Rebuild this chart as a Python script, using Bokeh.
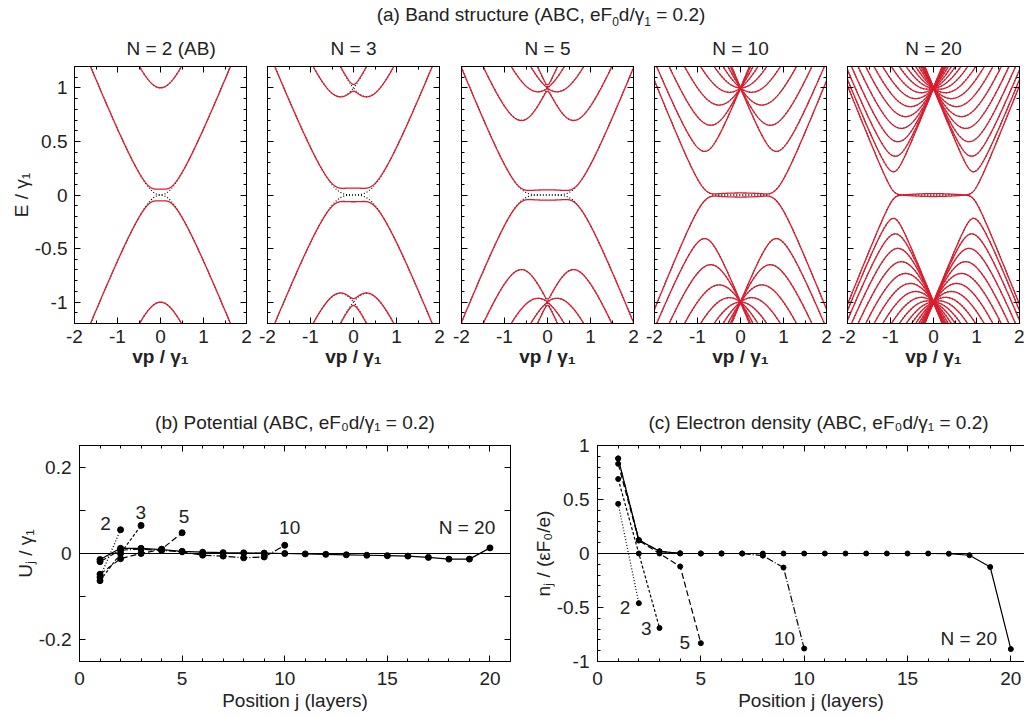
import numpy as np
from bokeh.plotting import figure
from bokeh.models import (Range1d, LinearAxis, FixedTicker, CustomJSTickFormatter,
                          CustomLabelingPolicy, Span, Label, Div)
from bokeh.layouts import column, row
from bokeh.embed import file_html
from bokeh.resources import INLINE

FONT = "Liberation Sans"
FS = "19px"
RED = "#dc1c2e"

# ---------------- data ----------------
layers_N2 = [1, 2]
layers_N3 = [1, 2, 3]
layers_N5 = [1, 2, 3, 4, 5]
layers_N10 = [1, 2, 3, 4, 5, 6, 7, 8, 9, 10]
layers_N20 = [1, 2, 3, 4, 5, 6, 7, 8, 9, 10, 11, 12, 13, 14, 15, 16, 17, 18, 19, 20]

# (b) potential U_j / gamma_1
U_N2 = [-0.055, 0.055]
U_N3 = [-0.063, 0.0, 0.065]
U_N5 = [-0.048, -0.012, 0.0, 0.010, 0.048]
U_N10 = [-0.019, 0.008, 0.010, 0.007, 0.004, -0.004, -0.006, -0.010, -0.008, 0.019]
U_N20 = [-0.014, 0.012, 0.012, 0.009, 0.005, 0.003, 0.002, 0.0015, 0.001, 0.0,
         -0.001, -0.002, -0.003, -0.004, -0.005, -0.006, -0.009, -0.013, -0.013, 0.013]

# (c) electron density n_j / (eps F0 / e)
n_N2 = [0.46, -0.46]
n_N3 = [0.69, 0.0, -0.69]
n_N5 = [0.83, 0.12, 0.0, -0.12, -0.83]
n_N10 = [0.88, 0.125, 0.02, 0.0, 0.0, 0.0, 0.0, -0.02, -0.13, -0.88]
n_N20 = [0.88, 0.125, 0.02, 0.002, 0.0, 0.0, 0.0, 0.0, 0.0, 0.0,
         0.0, 0.0, 0.0, 0.0, 0.0, 0.0, -0.002, -0.016, -0.125, -0.885]

# (a) band structure panels
band_titles = ["N = 2 (AB)", "N = 3", "N = 5", "N = 10", "N = 20"]
band_potentials = [U_N2, U_N3, U_N5, U_N10, U_N20]
gamma1 = 1.0                      # interlayer coupling (energy unit)
vp_min, vp_max = -2.0, 2.0        # momentum window of the band panels

x_ticks_a = [-2, -1, 0, 1, 2]
y_ticks_a = [-1, -0.5, 0, 0.5, 1]
x_labels_a = {-2: "-2", -1: "-1", 0: "0", 1: "1", 2: "2"}
y_labels_a = {-1: "-1", -0.5: "-0.5", 0: "0", 0.5: "0.5", 1: "1"}
x_ticks_bc = [0, 5, 10, 15, 20]
x_labels_bc = {0: "0", 5: "5", 10: "10", 15: "15", 20: "20"}
y_ticks_b = [-0.2, -0.1, 0, 0.1, 0.2]
y_labels_b = {-0.2: "-0.2", -0.1: "", 0: "0", 0.1: "", 0.2: "0.2"}
y_ticks_c = [-1, -0.5, 0, 0.5, 1]
y_labels_c = {-1: "-1", -0.5: "-0.5", 0: "0", 0.5: "0.5", 1: "1"}


def bands(U, vp):
    """Eigenvalues of the minimal ABC N-layer Hamiltonian with layer potentials U."""
    N = len(U)
    out = np.empty((len(vp), 2 * N))
    for i, k in enumerate(vp):
        H = np.zeros((2 * N, 2 * N))
        for j in range(N):
            a, b = 2 * j, 2 * j + 1
            H[a, a] = H[b, b] = U[j]
            H[a, b] = H[b, a] = k
        for j in range(N - 1):
            H[2 * j + 1, 2 * j + 2] = H[2 * j + 2, 2 * j + 1] = gamma1
        out[i] = np.linalg.eigvalsh(H)
    return out


def style_axis(ax, labels=True):
    ax.major_tick_in = 6
    ax.major_tick_out = 0
    ax.minor_tick_in = 3
    ax.minor_tick_out = 0
    ax.axis_line_color = "black"
    ax.major_tick_line_color = "black"
    ax.minor_tick_line_color = "black"
    ax.major_label_text_font = FONT
    ax.major_label_text_font_size = FS
    ax.major_label_text_color = "#222222"
    ax.axis_label_text_font = FONT
    ax.axis_label_text_font_size = FS
    ax.axis_label_text_font_style = "normal"
    ax.axis_label_text_color = "#222222"
    if not labels:
        ax.formatter = CustomJSTickFormatter(code="return ''")
        ax.major_label_text_font_size = "0px"
        ax.major_label_standoff = 0
        ax.major_label_policy = CustomLabelingPolicy(
            code="for (const i of indices) { indices.unset(i) }\nreturn indices")


def mirror(p, loc, ticks, minor):
    ax = LinearAxis(ticker=FixedTicker(ticks=ticks, minor_ticks=minor))
    style_axis(ax, labels=False)
    p.add_layout(ax, loc)


# ---------------- (a) band structure ----------------
vp = np.linspace(vp_min, vp_max, 801)
fw_a = 172
left_b = [74, 11, 12, 11, 11]
right_b = [10, 10, 10, 10, 5]

x_minor_a = [-1.5, -0.5, 0.5, 1.5]
y_minor_a = [round(v, 1) for v in np.arange(-1.1, 1.15, 0.1)]

top_figs = []
for i, (ttl, U) in enumerate(zip(band_titles, band_potentials)):
    p = figure(frame_width=fw_a, frame_height=257,
               x_range=Range1d(-2, 2), y_range=Range1d(-1.2, 1.2),
               output_backend="svg", toolbar_location=None,
               min_border_left=left_b[i], min_border_right=right_b[i],
               min_border_top=38, min_border_bottom=55,
               background_fill_color="white", border_fill_color="white",
               outline_line_color="black", x_axis_location="below")
    p.xgrid.visible = False
    p.ygrid.visible = False
    p.title.text = ttl
    p.title.text_font = FONT
    p.title.text_font_size = FS
    p.title.text_font_style = "normal"
    p.title.text_color = "#222222"
    if i == 0:
        p.title.align = "left"
        p.title.offset = 52
    else:
        p.title.align = "center"
    p.title.standoff = 15

    p.xaxis.ticker = FixedTicker(ticks=x_ticks_a, minor_ticks=x_minor_a)
    p.xaxis.major_label_overrides = x_labels_a
    p.yaxis.ticker = FixedTicker(ticks=y_ticks_a, minor_ticks=y_minor_a)
    p.yaxis.major_label_overrides = y_labels_a
    style_axis(p.xaxis[0])
    style_axis(p.yaxis[0], labels=(i == 0))
    p.xaxis.axis_label = "vp / γ₁"
    p.xaxis.axis_label_text_font_style = "bold"
    p.xaxis.major_label_standoff = 6
    p.xaxis.axis_label_standoff = 0
    if i == 0:
        p.yaxis.axis_label = "E / γ₁"
        p.yaxis.major_label_standoff = 7
        p.yaxis.axis_label_standoff = 0
    mirror(p, "right", y_ticks_a, y_minor_a)
    mirror(p, "above", x_ticks_a, x_minor_a)

    E0 = bands([0.0] * len(U), vp)
    EU = bands(U, vp)
    nb = E0.shape[1]
    p.multi_line([vp] * nb, [E0[:, k] for k in range(nb)], line_color="black",
                 line_width=1.2, line_dash="1 2")
    p.multi_line([vp] * nb, [EU[:, k] for k in range(nb)], line_color=RED,
                 line_width=1.3)
    top_figs.append(p)

# ---------------- (b) potential ----------------
series = [
    (layers_N2, U_N2, n_N2, "1 2"),
    (layers_N3, U_N3, n_N3, "3 2"),
    (layers_N5, U_N5, n_N5, "6 3"),
    (layers_N10, U_N10, n_N10, "7 2 1 2"),
    (layers_N20, U_N20, n_N20, "solid"),
]
x_minor_bc = [v for v in range(0, 22)]

pb = figure(frame_width=431, frame_height=216,
            x_range=Range1d(0, 21), y_range=Range1d(-0.25, 0.25),
            output_backend="svg", toolbar_location=None,
            min_border_left=79, min_border_right=16,
            min_border_top=67, min_border_bottom=56,
            outline_line_color="black")
pb.xgrid.visible = False
pb.ygrid.visible = False
pb.title.text = "(b) Potential (ABC, eF₀d/γ₁ = 0.2)"
pb.title.align = "center"
pb.title.text_font = FONT
pb.title.text_font_size = FS
pb.title.text_font_style = "normal"
pb.title.text_color = "#222222"
pb.title.standoff = 26
pb.xaxis.ticker = FixedTicker(ticks=x_ticks_bc, minor_ticks=x_minor_bc)
pb.xaxis.major_label_overrides = x_labels_bc
pb.yaxis.ticker = FixedTicker(ticks=y_ticks_b, minor_ticks=[])
pb.yaxis.major_label_overrides = y_labels_b
style_axis(pb.xaxis[0])
style_axis(pb.yaxis[0])
pb.xaxis.axis_label = "Position j (layers)"
pb.yaxis.axis_label = "Uⱼ / γ₁"
pb.xaxis.major_label_standoff = 10
pb.xaxis.axis_label_standoff = 2
pb.yaxis.major_label_standoff = 8
pb.yaxis.axis_label_standoff = 0
mirror(pb, "right", y_ticks_b, [])
mirror(pb, "above", x_ticks_bc, x_minor_bc)
pb.add_layout(Span(location=0, dimension="width", line_color="black", line_width=1))
for xs, us, ns, dash in series:
    pb.line(xs, us, line_color="black", line_width=1.2, line_dash=dash)
    pb.scatter(xs, us, size=6, color="black")
for txt, lx, ly in [("2", 1.27, 0.070), ("3", 2.99, 0.094), ("5", 5.09, 0.085),
                    ("10", 10.24, 0.060), ("N = 20", 18.88, 0.060)]:
    pb.add_layout(Label(x=lx, y=ly, text=txt, text_align="center",
                        text_baseline="middle", text_font=FONT,
                        text_font_size=FS, text_color="#222222"))

# ---------------- (c) electron density ----------------
pc = figure(frame_width=427, frame_height=216,
            x_range=Range1d(0, 20.66), y_range=Range1d(-1, 1),
            output_backend="svg", toolbar_location=None,
            min_border_left=71, min_border_right=0,
            min_border_top=67, min_border_bottom=56,
            outline_line_color=None)
pc.xgrid.visible = False
pc.ygrid.visible = False
pc.title.text = "(c) Electron density (ABC, eF₀d/γ₁ = 0.2)"
pc.title.align = "left"
pc.title.offset = 51
pc.title.text_font = FONT
pc.title.text_font_size = FS
pc.title.text_font_style = "normal"
pc.title.text_color = "#222222"
pc.title.standoff = 26
y_minor_c = [round(v, 1) for v in np.arange(-0.9, 0.95, 0.1)]
pc.xaxis.ticker = FixedTicker(ticks=x_ticks_bc, minor_ticks=x_minor_bc)
pc.xaxis.major_label_overrides = x_labels_bc
pc.yaxis.ticker = FixedTicker(ticks=y_ticks_c, minor_ticks=y_minor_c)
pc.yaxis.major_label_overrides = y_labels_c
style_axis(pc.xaxis[0])
style_axis(pc.yaxis[0])
pc.xaxis.axis_label = "Position j (layers)"
pc.yaxis.axis_label = "nⱼ / (εF₀/e)"
pc.xaxis.major_label_standoff = 10
pc.xaxis.axis_label_standoff = 2
pc.yaxis.major_label_standoff = 8
pc.yaxis.axis_label_standoff = 0
mirror(pc, "above", x_ticks_bc, x_minor_bc)
pc.add_layout(Span(location=0, dimension="width", line_color="black", line_width=1))
for xs, us, ns, dash in series:
    pc.line(xs, ns, line_color="black", line_width=1.2, line_dash=dash)
    pc.scatter(xs, ns, size=5, color="black")
for txt, lx, ly in [("2", 1.33, -0.497), ("3", 2.36, -0.695), ("5", 4.22, -0.825),
                    ("10", 9.05, -0.79), ("N = 20", 17.96, -0.79)]:
    pc.add_layout(Label(x=lx, y=ly, text=txt, text_align="center",
                        text_baseline="middle", text_font=FONT,
                        text_font_size=FS, text_color="#222222"))

title_a = Div(
    text=('<div style="font-family:\'Liberation Sans\';font-size:19px;color:#222;'
          'white-space:nowrap;text-align:center;width:1024px;position:relative;'
          'left:29px;top:1px">(a) Band structure (ABC, eF<sub style="font-size:12px">0</sub>'
          'd/γ<sub style="font-size:12px">1</sub> = 0.2)</div>'),
    width=1024, height=28, margin=(0, 0, 0, 0))

layout = column(title_a, row(*top_figs, spacing=0), row(pb, pc, spacing=0), spacing=0)

with open("out.html", "w") as f:
    f.write(file_html(layout, INLINE))
